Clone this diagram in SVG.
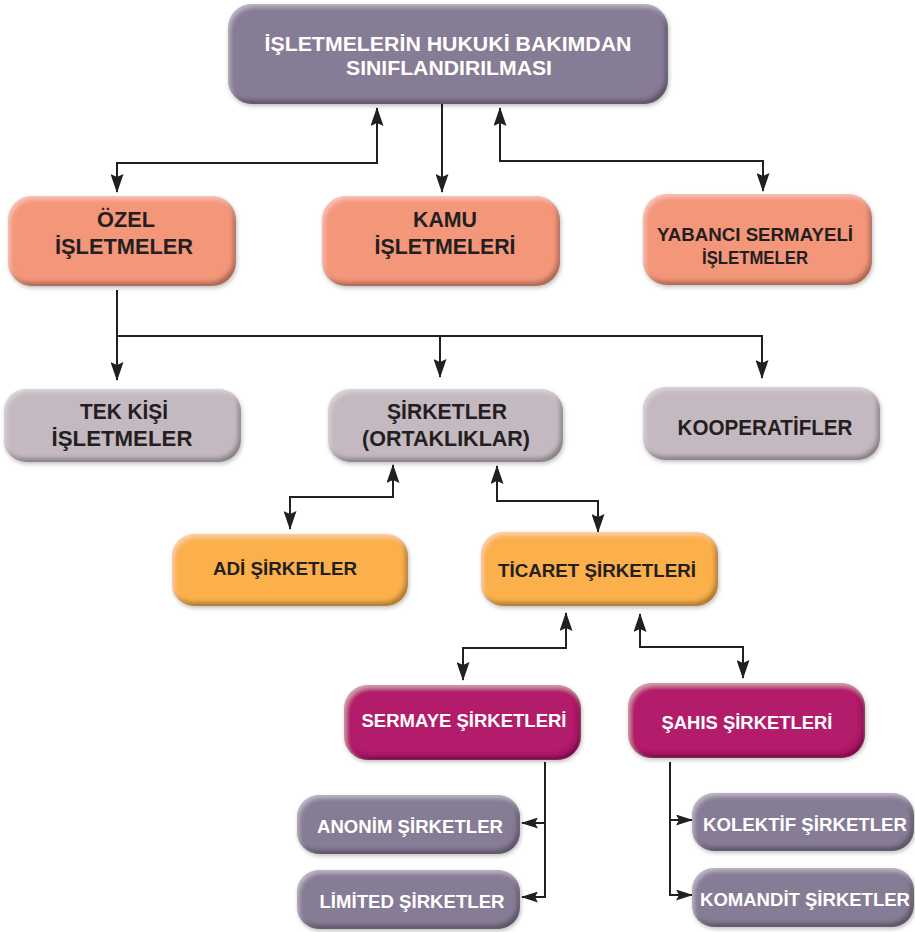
<svg xmlns="http://www.w3.org/2000/svg" width="915" height="932" viewBox="0 0 915 932">
<defs>
<style>
text{font-family:"Liberation Sans",Arial,sans-serif;font-weight:bold;text-anchor:middle}
.dk{fill:#231f20}
.wh{fill:#ffffff}
.f21{font-size:21px}
.f22{font-size:22px}
.f19{font-size:19px}
.c{fill:none;stroke:#231f20;stroke-width:2}
.pur{fill:#877b95}
.sal{fill:#f4967a}
.mau{fill:#c5b9c1}
.org{fill:#fbb04b}
.mag{fill:#b31f6b}
.box{filter:url(#bev)}
</style>
<filter id="bev" x="-6%" y="-10%" width="114%" height="130%">
<feGaussianBlur in="SourceAlpha" stdDeviation="2" result="b"/>
<feOffset in="b" dx="-3" dy="-4" result="o1"/>
<feComposite in="SourceAlpha" in2="o1" operator="out" result="e1"/>
<feFlood flood-color="#000" flood-opacity="0.55"/>
<feComposite in2="e1" operator="in" result="dark"/>
<feOffset in="b" dx="2" dy="3" result="o2"/>
<feComposite in="SourceAlpha" in2="o2" operator="out" result="e2"/>
<feFlood flood-color="#fff" flood-opacity="0.35"/>
<feComposite in2="e2" operator="in" result="light"/>
<feOffset in="b" dx="1" dy="2" result="o3"/>
<feFlood flood-color="#000" flood-opacity="0.25"/>
<feComposite in2="o3" operator="in" result="drop"/>
<feMerge><feMergeNode in="drop"/><feMergeNode in="SourceGraphic"/><feMergeNode in="dark"/><feMergeNode in="light"/></feMerge>
</filter>
<marker id="a" markerUnits="userSpaceOnUse" viewBox="0 0 19 13" markerWidth="19" markerHeight="13" refX="18" refY="6.5" orient="auto-start-reverse">
<path d="M0,0 L19,6.5 L0,13 L3,6.5 z" fill="#231f20"/>
</marker>
<marker id="s" markerUnits="userSpaceOnUse" viewBox="0 0 17 11" markerWidth="17" markerHeight="11" refX="16" refY="5.5" orient="auto-start-reverse">
<path d="M0,0 L17,5.5 L0,11 L3,5.5 z" fill="#231f20"/>
</marker>
</defs>
<rect width="915" height="932" fill="#ffffff"/>

<g id="connectors">
<path class="c" d="M377,108 L377,163 L117,163 L117,192" marker-start="url(#a)" marker-end="url(#a)"/>
<path class="c" d="M442,104 L442,192" marker-end="url(#a)"/>
<path class="c" d="M500,108 L500,161 L763,161 L763,191" marker-start="url(#a)" marker-end="url(#a)"/>
<path class="c" d="M117,290 L117,380" marker-end="url(#a)"/>
<path class="c" d="M117,336 L762,336 L762,378" marker-end="url(#a)"/>
<path class="c" d="M440,336 L440,377" marker-end="url(#a)"/>
<path class="c" d="M393,465 L393,497 L290,497 L290,529" marker-start="url(#a)" marker-end="url(#a)"/>
<path class="c" d="M497,466 L497,501 L598,501 L598,532" marker-start="url(#a)" marker-end="url(#a)"/>
<path class="c" d="M566,613 L566,648 L463,648 L463,680" marker-start="url(#a)" marker-end="url(#a)"/>
<path class="c" d="M640,614 L640,647 L743,647 L743,678" marker-start="url(#a)" marker-end="url(#a)"/>
<path class="c" d="M545,762 L545,897 L522,897" marker-end="url(#s)"/>
<path class="c" d="M545,823 L522,823" marker-end="url(#s)"/>
<path class="c" d="M670,762 L670,895 L692,895" marker-end="url(#s)"/>
<path class="c" d="M670,820 L692,820" marker-end="url(#s)"/>
</g>

<g id="n-top">
<rect class="box pur" x="228" y="4" width="440" height="100" rx="24"/>
<text class="wh f21" x="448" y="51" textLength="367" lengthAdjust="spacingAndGlyphs">İŞLETMELERİN HUKUKİ BAKIMDAN</text>
<text class="wh f21" x="449" y="75" textLength="206" lengthAdjust="spacingAndGlyphs">SINIFLANDIRILMASI</text>
</g>

<g id="n-ozel">
<rect class="box sal" x="8" y="196" width="228" height="90" rx="24"/>
<text class="dk f22" x="126" y="227" textLength="58" lengthAdjust="spacingAndGlyphs">ÖZEL</text>
<text class="dk f22" x="124" y="254" textLength="138" lengthAdjust="spacingAndGlyphs">İŞLETMELER</text>
</g>

<g id="n-kamu">
<rect class="box sal" x="322" y="196" width="238" height="90" rx="24"/>
<text class="dk f22" x="445" y="227" textLength="64" lengthAdjust="spacingAndGlyphs">KAMU</text>
<text class="dk f22" x="445" y="254" textLength="141" lengthAdjust="spacingAndGlyphs">İŞLETMELERİ</text>
</g>

<g id="n-yabanci">
<rect class="box sal" x="643" y="194" width="229" height="91" rx="24"/>
<text class="dk f19" x="755" y="241" textLength="196" lengthAdjust="spacingAndGlyphs">YABANCI SERMAYELİ</text>
<text class="dk f19" x="755" y="264" textLength="106" lengthAdjust="spacingAndGlyphs">İŞLETMELER</text>
</g>

<g id="n-tek">
<rect class="box mau" x="4" y="389" width="237" height="73" rx="22"/>
<text class="dk f22" x="124" y="419" textLength="88" lengthAdjust="spacingAndGlyphs">TEK KİŞİ</text>
<text class="dk f22" x="122" y="446" textLength="141" lengthAdjust="spacingAndGlyphs">İŞLETMELER</text>
</g>

<g id="n-sirketler">
<rect class="box mau" x="328" y="389" width="235" height="73" rx="22"/>
<text class="dk f22" x="447" y="419" textLength="120" lengthAdjust="spacingAndGlyphs">ŞİRKETLER</text>
<text class="dk f22" x="446" y="446" textLength="168" lengthAdjust="spacingAndGlyphs">(ORTAKLIKLAR)</text>
</g>

<g id="n-koop">
<rect class="box mau" x="643" y="387" width="237" height="73" rx="22"/>
<text class="dk f22" x="765" y="435" textLength="175" lengthAdjust="spacingAndGlyphs">KOOPERATİFLER</text>
</g>

<g id="n-adi">
<rect class="box org" x="172" y="534" width="236" height="72" rx="22"/>
<text class="dk f19" x="285" y="575" textLength="144" lengthAdjust="spacingAndGlyphs">ADİ ŞİRKETLER</text>
</g>

<g id="n-ticaret">
<rect class="box org" x="481" y="532" width="237" height="74" rx="22"/>
<text class="dk f19" x="597" y="577" textLength="198" lengthAdjust="spacingAndGlyphs">TİCARET ŞİRKETLERİ</text>
</g>

<g id="n-sermaye">
<rect class="box mag" x="344" y="685" width="237" height="75" rx="24"/>
<text class="wh f19" x="464" y="727" textLength="205" lengthAdjust="spacingAndGlyphs">SERMAYE ŞİRKETLERİ</text>
</g>

<g id="n-sahis">
<rect class="box mag" x="628" y="683" width="237" height="75" rx="24"/>
<text class="wh f19" x="747" y="729" textLength="171" lengthAdjust="spacingAndGlyphs">ŞAHIS ŞİRKETLERİ</text>
</g>

<g id="n-anonim">
<rect class="box pur" x="297" y="795" width="223" height="59" rx="22"/>
<text class="wh f19" x="410" y="833" textLength="186" lengthAdjust="spacingAndGlyphs">ANONİM ŞİRKETLER</text>
</g>

<g id="n-limited">
<rect class="box pur" x="297" y="870" width="223" height="59" rx="22"/>
<text class="wh f19" x="412" y="908" textLength="185" lengthAdjust="spacingAndGlyphs">LİMİTED ŞİRKETLER</text>
</g>

<g id="n-kolektif">
<rect class="box pur" x="692" y="793" width="222" height="58" rx="22"/>
<text class="wh f19" x="805" y="831" textLength="204" lengthAdjust="spacingAndGlyphs">KOLEKTİF ŞİRKETLER</text>
</g>

<g id="n-komandit">
<rect class="box pur" x="692" y="868" width="222" height="59" rx="22"/>
<text class="wh f19" x="805" y="906" textLength="210" lengthAdjust="spacingAndGlyphs">KOMANDİT ŞİRKETLER</text>
</g>
</svg>
